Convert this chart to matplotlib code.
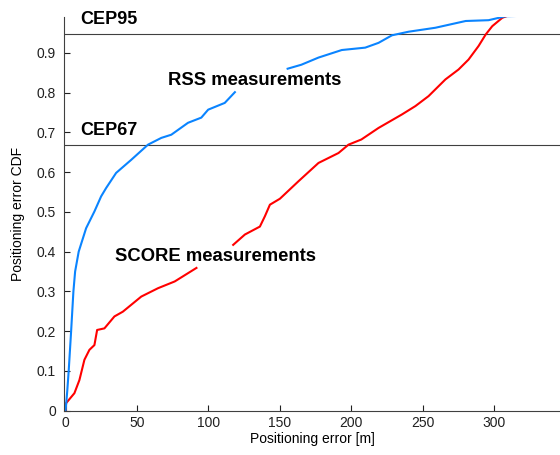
import matplotlib.pyplot as plt

plt.rcParams['font.family'] = ['Liberation Sans', 'DejaVu Sans']

# RSS curve, two visible pieces (label covers the gap)
rss_x1 = [0, 0.5, 1.2, 2.2, 3.9, 5.5, 6.7, 9.2, 14.4, 20.2, 24.9, 28.4, 35.4, 46, 57.7, 67, 74, 85.7, 95, 99.8, 111.4, 118.5]
rss_y1 = [0, 0.02, 0.05, 0.10, 0.20, 0.30, 0.35, 0.40, 0.459, 0.501, 0.539, 0.56, 0.598, 0.631, 0.669, 0.686, 0.694, 0.724, 0.737, 0.757, 0.774, 0.801]
rss_x2 = [155.4, 165, 177, 193.3, 209.7, 219, 228.4, 240, 258.8, 280, 296, 308, 331]
rss_y2 = [0.86, 0.87, 0.888, 0.907, 0.913, 0.925, 0.944, 0.953, 0.963, 0.98, 0.982, 0.992, 0.994]

# SCORE curve, two visible pieces
score_x1 = [0, 0.4, 6.2, 9.7, 13.2, 16.7, 20.2, 22.1, 27.2, 34.2, 40.1, 53, 64.7, 76.4, 91.6]
score_y1 = [0, 0.019, 0.044, 0.077, 0.128, 0.153, 0.165, 0.203, 0.207, 0.237, 0.249, 0.287, 0.308, 0.325, 0.359]
score_x2 = [117.3, 125.5, 136, 139.5, 143, 150, 163, 177, 191, 198, 207, 219, 235.4, 244.8, 254, 265.8, 275, 282, 289, 294, 298.6, 305.6, 310]
score_y2 = [0.417, 0.443, 0.463, 0.489, 0.518, 0.533, 0.577, 0.623, 0.648, 0.669, 0.682, 0.711, 0.745, 0.766, 0.791, 0.833, 0.858, 0.883, 0.917, 0.946, 0.967, 0.988, 0.994]

cep95 = 0.948
cep67 = 0.667

fig = plt.figure(figsize=(5.6, 4.55), dpi=100)
ax = fig.add_axes([0.1145, 0.0974, 0.8855, 0.8652])

ax.axhline(cep95, color='#404040', lw=0.8)
ax.axhline(cep67, color='#404040', lw=0.8)

ax.plot(score_x1, score_y1, color='#ff0000', lw=1.5)
ax.plot(score_x2, score_y2, color='#ff0000', lw=1.5)
ax.plot(rss_x1, rss_y1, color='#0a84ff', lw=1.5)
ax.plot(rss_x2, rss_y2, color='#0a84ff', lw=1.5)

ax.text(10.5, 0.984, 'CEP95', fontsize=13, fontweight='bold', va='center')
ax.text(10, 0.705, 'CEP67', fontsize=13, fontweight='bold', va='center')
ax.text(72, 0.83, 'RSS measurements', fontsize=13.3, fontweight='bold', va='center')
ax.text(34.5, 0.387, 'SCORE measurements', fontsize=13.3, fontweight='bold', va='center')

ax.set_xlim(-1, 346)
ax.set_ylim(0, 0.99)
ax.set_xticks([0, 50, 100, 150, 200, 250, 300])
ax.set_yticks([0, 0.1, 0.2, 0.3, 0.4, 0.5, 0.6, 0.7, 0.8, 0.9])
ax.set_yticklabels(['0', '0.1', '0.2', '0.3', '0.4', '0.5', '0.6', '0.7', '0.8', '0.9'])
ax.tick_params(direction='in', length=4, labelsize=10, colors='#202020')
ax.tick_params(axis='y', pad=6)
ax.spines['top'].set_visible(False)
ax.spines['right'].set_visible(False)
ax.spines['left'].set_color('#404040')
ax.spines['bottom'].set_color('#404040')
ax.set_xlabel('Positioning error [m]', fontsize=10, labelpad=2)
ax.set_ylabel('Positioning error CDF', fontsize=10, labelpad=8)

fig.savefig('out.png', dpi=100)
